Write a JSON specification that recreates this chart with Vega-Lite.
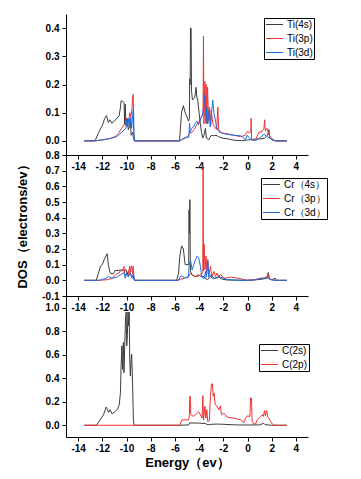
{
"$schema": "https://vega.github.io/schema/vega-lite/v6.json",
"autosize": "none",
"padding": {"left": 66, "top": 14, "right": 295, "bottom": 465},
"background": "white",
"config": {
  "view": {"stroke": null},
  "font": "Liberation Sans",
  "axis": {"grid": false, "domainColor": "black", "domainWidth": 1, "tickColor": "black", "tickSize": 4, "labelFont": "Liberation Sans", "labelFontWeight": "bold", "labelColor": "black", "labelFontSize": 10, "titleFont": "Liberation Sans", "titleFontWeight": "bold", "titleColor": "black", "titleFontSize": 13, "labelExpr": "replace(datum.label, '−', '-')"},
  "legend": {"orient": "none", "strokeColor": "black", "strokeWidth": 1, "padding": 1, "symbolType": "M-1.7,0H1.7", "symbolSize": 100, "symbolOffset": 4, "symbolStrokeWidth": 1.5, "rowPadding": 3, "labelFont": "Liberation Sans", "labelFontSize": 10, "labelColor": "black", "labelOffset": 7, "title": null, "fillColor": "white"},
  "line": {"strokeWidth": 1}
},
"datasets": {
"ti": [
{"e":-13.5,"v":0,"s":"Ti(4s)"},{"e":-12.6,"v":0,"s":"Ti(4s)"},{"e":-12.3,"v":0.03,"s":"Ti(4s)"},{"e":-12.0,"v":0.055,"s":"Ti(4s)"},{"e":-11.8,"v":0.08,"s":"Ti(4s)"},{"e":-11.65,"v":0.09,"s":"Ti(4s)"},{"e":-11.5,"v":0.065,"s":"Ti(4s)"},{"e":-11.38,"v":0.075,"s":"Ti(4s)"},{"e":-11.22,"v":0.063,"s":"Ti(4s)"},{"e":-11.0,"v":0.07,"s":"Ti(4s)"},{"e":-10.8,"v":0.08,"s":"Ti(4s)"},{"e":-10.6,"v":0.09,"s":"Ti(4s)"},{"e":-10.5,"v":0.12,"s":"Ti(4s)"},{"e":-10.45,"v":0.142,"s":"Ti(4s)"},{"e":-10.3,"v":0.14,"s":"Ti(4s)"},{"e":-10.2,"v":0.135,"s":"Ti(4s)"},{"e":-10.15,"v":0.06,"s":"Ti(4s)"},{"e":-10.1,"v":0.13,"s":"Ti(4s)"},{"e":-10.05,"v":0.055,"s":"Ti(4s)"},{"e":-9.95,"v":0.08,"s":"Ti(4s)"},{"e":-9.85,"v":0.04,"s":"Ti(4s)"},{"e":-9.75,"v":0.05,"s":"Ti(4s)"},{"e":-9.68,"v":0.08,"s":"Ti(4s)"},{"e":-9.62,"v":0.02,"s":"Ti(4s)"},{"e":-9.5,"v":0.03,"s":"Ti(4s)"},{"e":-9.42,"v":0.01,"s":"Ti(4s)"},{"e":-9.35,"v":0,"s":"Ti(4s)"},{"e":-5.62,"v":0,"s":"Ti(4s)"},{"e":-5.55,"v":0.04,"s":"Ti(4s)"},{"e":-5.45,"v":0.1,"s":"Ti(4s)"},{"e":-5.3,"v":0.125,"s":"Ti(4s)"},{"e":-5.15,"v":0.1,"s":"Ti(4s)"},{"e":-5.0,"v":0.085,"s":"Ti(4s)"},{"e":-4.87,"v":0.07,"s":"Ti(4s)"},{"e":-4.8,"v":0.08,"s":"Ti(4s)"},{"e":-4.78,"v":0.22,"s":"Ti(4s)"},{"e":-4.74,"v":0.2,"s":"Ti(4s)"},{"e":-4.71,"v":0.4,"s":"Ti(4s)"},{"e":-4.66,"v":0.4,"s":"Ti(4s)"},{"e":-4.63,"v":0.18,"s":"Ti(4s)"},{"e":-4.55,"v":0.145,"s":"Ti(4s)"},{"e":-4.45,"v":0.15,"s":"Ti(4s)"},{"e":-4.35,"v":0.155,"s":"Ti(4s)"},{"e":-4.25,"v":0.19,"s":"Ti(4s)"},{"e":-4.2,"v":0.16,"s":"Ti(4s)"},{"e":-4.1,"v":0.14,"s":"Ti(4s)"},{"e":-4.0,"v":0.1,"s":"Ti(4s)"},{"e":-3.9,"v":0.06,"s":"Ti(4s)"},{"e":-3.8,"v":0.03,"s":"Ti(4s)"},{"e":-3.7,"v":0.01,"s":"Ti(4s)"},{"e":-3.6,"v":0.02,"s":"Ti(4s)"},{"e":-3.48,"v":0.045,"s":"Ti(4s)"},{"e":-3.4,"v":0.01,"s":"Ti(4s)"},{"e":-3.2,"v":0.004,"s":"Ti(4s)"},{"e":-3.0,"v":0.02,"s":"Ti(4s)"},{"e":-2.8,"v":0.018,"s":"Ti(4s)"},{"e":-2.6,"v":0.02,"s":"Ti(4s)"},{"e":-2.4,"v":0.015,"s":"Ti(4s)"},{"e":-2.1,"v":0.01,"s":"Ti(4s)"},{"e":-1.7,"v":0.008,"s":"Ti(4s)"},{"e":-1.3,"v":0.004,"s":"Ti(4s)"},{"e":-1.0,"v":0.002,"s":"Ti(4s)"},{"e":-0.5,"v":0.001,"s":"Ti(4s)"},{"e":0,"v":0.003,"s":"Ti(4s)"},{"e":0.3,"v":0.005,"s":"Ti(4s)"},{"e":0.6,"v":0.006,"s":"Ti(4s)"},{"e":1.0,"v":0.007,"s":"Ti(4s)"},{"e":1.4,"v":0.009,"s":"Ti(4s)"},{"e":1.65,"v":0.02,"s":"Ti(4s)"},{"e":1.77,"v":0.04,"s":"Ti(4s)"},{"e":1.83,"v":0.012,"s":"Ti(4s)"},{"e":2.0,"v":0.004,"s":"Ti(4s)"},{"e":2.3,"v":0,"s":"Ti(4s)"},{"e":3.25,"v":0,"s":"Ti(4s)"},
{"e":-13.5,"v":0,"s":"Ti(3p)"},{"e":-12.5,"v":0,"s":"Ti(3p)"},{"e":-12.2,"v":0.003,"s":"Ti(3p)"},{"e":-11.4,"v":0.008,"s":"Ti(3p)"},{"e":-10.95,"v":0.015,"s":"Ti(3p)"},{"e":-10.65,"v":0.027,"s":"Ti(3p)"},{"e":-10.4,"v":0.045,"s":"Ti(3p)"},{"e":-10.2,"v":0.057,"s":"Ti(3p)"},{"e":-10.05,"v":0.06,"s":"Ti(3p)"},{"e":-10.0,"v":0.08,"s":"Ti(3p)"},{"e":-9.95,"v":0.05,"s":"Ti(3p)"},{"e":-9.83,"v":0.07,"s":"Ti(3p)"},{"e":-9.72,"v":0.1,"s":"Ti(3p)"},{"e":-9.65,"v":0.085,"s":"Ti(3p)"},{"e":-9.55,"v":0.11,"s":"Ti(3p)"},{"e":-9.5,"v":0.155,"s":"Ti(3p)"},{"e":-9.44,"v":0.165,"s":"Ti(3p)"},{"e":-9.41,"v":0.03,"s":"Ti(3p)"},{"e":-9.35,"v":0,"s":"Ti(3p)"},{"e":-5.62,"v":0,"s":"Ti(3p)"},{"e":-5.4,"v":0.005,"s":"Ti(3p)"},{"e":-5.1,"v":0.01,"s":"Ti(3p)"},{"e":-4.9,"v":0.02,"s":"Ti(3p)"},{"e":-4.8,"v":0.028,"s":"Ti(3p)"},{"e":-4.6,"v":0.03,"s":"Ti(3p)"},{"e":-4.4,"v":0.04,"s":"Ti(3p)"},{"e":-4.2,"v":0.057,"s":"Ti(3p)"},{"e":-4.0,"v":0.07,"s":"Ti(3p)"},{"e":-3.85,"v":0.08,"s":"Ti(3p)"},{"e":-3.75,"v":0.09,"s":"Ti(3p)"},{"e":-3.67,"v":0.1,"s":"Ti(3p)"},{"e":-3.64,"v":0.372,"s":"Ti(3p)"},{"e":-3.6,"v":0.06,"s":"Ti(3p)"},{"e":-3.52,"v":0.21,"s":"Ti(3p)"},{"e":-3.48,"v":0.09,"s":"Ti(3p)"},{"e":-3.42,"v":0.2,"s":"Ti(3p)"},{"e":-3.36,"v":0.06,"s":"Ti(3p)"},{"e":-3.3,"v":0.19,"s":"Ti(3p)"},{"e":-3.22,"v":0.07,"s":"Ti(3p)"},{"e":-3.15,"v":0.12,"s":"Ti(3p)"},{"e":-3.08,"v":0.05,"s":"Ti(3p)"},{"e":-3.0,"v":0.11,"s":"Ti(3p)"},{"e":-2.92,"v":0.08,"s":"Ti(3p)"},{"e":-2.85,"v":0.06,"s":"Ti(3p)"},{"e":-2.7,"v":0.05,"s":"Ti(3p)"},{"e":-2.55,"v":0.04,"s":"Ti(3p)"},{"e":-2.45,"v":0.12,"s":"Ti(3p)"},{"e":-2.38,"v":0.04,"s":"Ti(3p)"},{"e":-2.2,"v":0.03,"s":"Ti(3p)"},{"e":-1.96,"v":0.027,"s":"Ti(3p)"},{"e":-1.5,"v":0.024,"s":"Ti(3p)"},{"e":-1.13,"v":0.02,"s":"Ti(3p)"},{"e":-0.57,"v":0.015,"s":"Ti(3p)"},{"e":-0.2,"v":0.02,"s":"Ti(3p)"},{"e":-0.02,"v":0.033,"s":"Ti(3p)"},{"e":0.15,"v":0.03,"s":"Ti(3p)"},{"e":0.27,"v":0.03,"s":"Ti(3p)"},{"e":0.3,"v":0.08,"s":"Ti(3p)"},{"e":0.34,"v":0.004,"s":"Ti(3p)"},{"e":0.67,"v":0.004,"s":"Ti(3p)"},{"e":0.94,"v":0.03,"s":"Ti(3p)"},{"e":1.2,"v":0.033,"s":"Ti(3p)"},{"e":1.36,"v":0.045,"s":"Ti(3p)"},{"e":1.42,"v":0.075,"s":"Ti(3p)"},{"e":1.47,"v":0.035,"s":"Ti(3p)"},{"e":1.6,"v":0.045,"s":"Ti(3p)"},{"e":1.64,"v":0.04,"s":"Ti(3p)"},{"e":1.8,"v":0.02,"s":"Ti(3p)"},{"e":2.05,"v":0.006,"s":"Ti(3p)"},{"e":2.3,"v":0,"s":"Ti(3p)"},{"e":3.25,"v":0,"s":"Ti(3p)"},
{"e":-13.5,"v":0,"s":"Ti(3d)"},{"e":-12.5,"v":0.001,"s":"Ti(3d)"},{"e":-12.0,"v":0.003,"s":"Ti(3d)"},{"e":-11.4,"v":0.008,"s":"Ti(3d)"},{"e":-10.8,"v":0.015,"s":"Ti(3d)"},{"e":-10.4,"v":0.03,"s":"Ti(3d)"},{"e":-10.2,"v":0.039,"s":"Ti(3d)"},{"e":-10.05,"v":0.045,"s":"Ti(3d)"},{"e":-9.97,"v":0.074,"s":"Ti(3d)"},{"e":-9.9,"v":0.05,"s":"Ti(3d)"},{"e":-9.8,"v":0.08,"s":"Ti(3d)"},{"e":-9.72,"v":0.055,"s":"Ti(3d)"},{"e":-9.64,"v":0.084,"s":"Ti(3d)"},{"e":-9.57,"v":0.045,"s":"Ti(3d)"},{"e":-9.48,"v":0.098,"s":"Ti(3d)"},{"e":-9.42,"v":0.116,"s":"Ti(3d)"},{"e":-9.38,"v":0.03,"s":"Ti(3d)"},{"e":-9.34,"v":0,"s":"Ti(3d)"},{"e":-5.6,"v":0,"s":"Ti(3d)"},{"e":-5.5,"v":0.003,"s":"Ti(3d)"},{"e":-5.13,"v":0.013,"s":"Ti(3d)"},{"e":-4.85,"v":0.013,"s":"Ti(3d)"},{"e":-4.79,"v":0.063,"s":"Ti(3d)"},{"e":-4.74,"v":0.03,"s":"Ti(3d)"},{"e":-4.6,"v":0.045,"s":"Ti(3d)"},{"e":-4.45,"v":0.05,"s":"Ti(3d)"},{"e":-4.3,"v":0.065,"s":"Ti(3d)"},{"e":-4.17,"v":0.069,"s":"Ti(3d)"},{"e":-4.05,"v":0.057,"s":"Ti(3d)"},{"e":-3.9,"v":0.074,"s":"Ti(3d)"},{"e":-3.75,"v":0.09,"s":"Ti(3d)"},{"e":-3.62,"v":0.12,"s":"Ti(3d)"},{"e":-3.56,"v":0.163,"s":"Ti(3d)"},{"e":-3.5,"v":0.16,"s":"Ti(3d)"},{"e":-3.44,"v":0.063,"s":"Ti(3d)"},{"e":-3.36,"v":0.12,"s":"Ti(3d)"},{"e":-3.28,"v":0.06,"s":"Ti(3d)"},{"e":-3.16,"v":0.11,"s":"Ti(3d)"},{"e":-3.05,"v":0.05,"s":"Ti(3d)"},{"e":-2.95,"v":0.11,"s":"Ti(3d)"},{"e":-2.87,"v":0.145,"s":"Ti(3d)"},{"e":-2.78,"v":0.1,"s":"Ti(3d)"},{"e":-2.68,"v":0.08,"s":"Ti(3d)"},{"e":-2.56,"v":0.05,"s":"Ti(3d)"},{"e":-2.37,"v":0.033,"s":"Ti(3d)"},{"e":-2.09,"v":0.027,"s":"Ti(3d)"},{"e":-1.5,"v":0.022,"s":"Ti(3d)"},{"e":-1.13,"v":0.02,"s":"Ti(3d)"},{"e":-0.57,"v":0.018,"s":"Ti(3d)"},{"e":-0.3,"v":0.01,"s":"Ti(3d)"},{"e":-0.16,"v":0.004,"s":"Ti(3d)"},{"e":-0.02,"v":0.02,"s":"Ti(3d)"},{"e":0.15,"v":0.01,"s":"Ti(3d)"},{"e":0.3,"v":0.004,"s":"Ti(3d)"},{"e":0.67,"v":0.001,"s":"Ti(3d)"},{"e":0.9,"v":0.008,"s":"Ti(3d)"},{"e":1.08,"v":0.013,"s":"Ti(3d)"},{"e":1.36,"v":0.024,"s":"Ti(3d)"},{"e":1.6,"v":0.015,"s":"Ti(3d)"},{"e":1.8,"v":0.01,"s":"Ti(3d)"},{"e":2.05,"v":0.006,"s":"Ti(3d)"},{"e":2.3,"v":0,"s":"Ti(3d)"},{"e":3.25,"v":0,"s":"Ti(3d)"}
],
"cr": [
{"e":-13.5,"v":0,"s":"Cr（4s）"},{"e":-12.5,"v":0,"s":"Cr（4s）"},{"e":-12.3,"v":0.05,"s":"Cr（4s）"},{"e":-12.15,"v":0.09,"s":"Cr（4s）"},{"e":-12.0,"v":0.1,"s":"Cr（4s）"},{"e":-11.8,"v":0.14,"s":"Cr（4s）"},{"e":-11.6,"v":0.17,"s":"Cr（4s）"},{"e":-11.5,"v":0.1,"s":"Cr（4s）"},{"e":-11.35,"v":0.046,"s":"Cr（4s）"},{"e":-11.1,"v":0.041,"s":"Cr（4s）"},{"e":-10.95,"v":0.063,"s":"Cr（4s）"},{"e":-10.7,"v":0.063,"s":"Cr（4s）"},{"e":-10.4,"v":0.067,"s":"Cr（4s）"},{"e":-10.2,"v":0.06,"s":"Cr（4s）"},{"e":-10.05,"v":0.07,"s":"Cr（4s）"},{"e":-9.95,"v":0.04,"s":"Cr（4s）"},{"e":-9.85,"v":0.06,"s":"Cr（4s）"},{"e":-9.7,"v":0.046,"s":"Cr（4s）"},{"e":-9.55,"v":0.03,"s":"Cr（4s）"},{"e":-9.42,"v":0.024,"s":"Cr（4s）"},{"e":-9.35,"v":0,"s":"Cr（4s）"},{"e":-5.85,"v":0,"s":"Cr（4s）"},{"e":-5.7,"v":0.046,"s":"Cr（4s）"},{"e":-5.6,"v":0.15,"s":"Cr（4s）"},{"e":-5.45,"v":0.22,"s":"Cr（4s）"},{"e":-5.3,"v":0.2,"s":"Cr（4s）"},{"e":-5.15,"v":0.1,"s":"Cr（4s）"},{"e":-5.0,"v":0.1,"s":"Cr（4s）"},{"e":-4.86,"v":0.1,"s":"Cr（4s）"},{"e":-4.83,"v":0.45,"s":"Cr（4s）"},{"e":-4.8,"v":0.3,"s":"Cr（4s）"},{"e":-4.76,"v":0.515,"s":"Cr（4s）"},{"e":-4.72,"v":0.06,"s":"Cr（4s）"},{"e":-4.6,"v":0.035,"s":"Cr（4s）"},{"e":-4.3,"v":0.024,"s":"Cr（4s）"},{"e":-4.05,"v":0.035,"s":"Cr（4s）"},{"e":-3.75,"v":0.02,"s":"Cr（4s）"},{"e":-3.6,"v":0.025,"s":"Cr（4s）"},{"e":-3.45,"v":0.01,"s":"Cr（4s）"},{"e":-3.3,"v":0.004,"s":"Cr（4s）"},{"e":-3.06,"v":0.024,"s":"Cr（4s）"},{"e":-2.8,"v":0.01,"s":"Cr（4s）"},{"e":-2.5,"v":0.02,"s":"Cr（4s）"},{"e":-2.37,"v":0.028,"s":"Cr（4s）"},{"e":-2.2,"v":0.01,"s":"Cr（4s）"},{"e":-1.7,"v":0.002,"s":"Cr（4s）"},{"e":-1.0,"v":0.001,"s":"Cr（4s）"},{"e":0,"v":0,"s":"Cr（4s）"},{"e":0.5,"v":0.002,"s":"Cr（4s）"},{"e":1.08,"v":0.006,"s":"Cr（4s）"},{"e":1.6,"v":0.013,"s":"Cr（4s）"},{"e":1.72,"v":0.05,"s":"Cr（4s）"},{"e":1.8,"v":0.01,"s":"Cr（4s）"},{"e":2.0,"v":0.004,"s":"Cr（4s）"},{"e":2.3,"v":0.013,"s":"Cr（4s）"},{"e":2.35,"v":0,"s":"Cr（4s）"},{"e":3.25,"v":0,"s":"Cr（4s）"},
{"e":-13.5,"v":0,"s":"Cr（3p）"},{"e":-12.2,"v":0,"s":"Cr（3p）"},{"e":-11.5,"v":0.005,"s":"Cr（3p）"},{"e":-11.2,"v":0.013,"s":"Cr（3p）"},{"e":-10.9,"v":0.035,"s":"Cr（3p）"},{"e":-10.5,"v":0.057,"s":"Cr（3p）"},{"e":-10.3,"v":0.067,"s":"Cr（3p）"},{"e":-10.2,"v":0.089,"s":"Cr（3p）"},{"e":-10.15,"v":0.03,"s":"Cr（3p）"},{"e":-10.0,"v":0.046,"s":"Cr（3p）"},{"e":-9.85,"v":0.03,"s":"Cr（3p）"},{"e":-9.75,"v":0.09,"s":"Cr（3p）"},{"e":-9.7,"v":0.05,"s":"Cr（3p）"},{"e":-9.6,"v":0.093,"s":"Cr（3p）"},{"e":-9.5,"v":0.04,"s":"Cr（3p）"},{"e":-9.45,"v":0.09,"s":"Cr（3p）"},{"e":-9.4,"v":0.03,"s":"Cr（3p）"},{"e":-9.35,"v":0,"s":"Cr（3p）"},{"e":-5.8,"v":0,"s":"Cr（3p）"},{"e":-5.55,"v":0.006,"s":"Cr（3p）"},{"e":-5.13,"v":0.017,"s":"Cr（3p）"},{"e":-4.86,"v":0.024,"s":"Cr（3p）"},{"e":-4.72,"v":0.046,"s":"Cr（3p）"},{"e":-4.44,"v":0.028,"s":"Cr（3p）"},{"e":-4.17,"v":0.024,"s":"Cr（3p）"},{"e":-3.89,"v":0.035,"s":"Cr（3p）"},{"e":-3.75,"v":0.046,"s":"Cr（3p）"},{"e":-3.69,"v":0.05,"s":"Cr（3p）"},{"e":-3.67,"v":0.73,"s":"Cr（3p）"},{"e":-3.64,"v":0.06,"s":"Cr（3p）"},{"e":-3.58,"v":0.23,"s":"Cr（3p）"},{"e":-3.52,"v":0.067,"s":"Cr（3p）"},{"e":-3.42,"v":0.154,"s":"Cr（3p）"},{"e":-3.37,"v":0.04,"s":"Cr（3p）"},{"e":-3.28,"v":0.122,"s":"Cr（3p）"},{"e":-3.2,"v":0.03,"s":"Cr（3p）"},{"e":-3.06,"v":0.089,"s":"Cr（3p）"},{"e":-2.95,"v":0.02,"s":"Cr（3p）"},{"e":-2.78,"v":0.057,"s":"Cr（3p）"},{"e":-2.65,"v":0.025,"s":"Cr（3p）"},{"e":-2.51,"v":0.046,"s":"Cr（3p）"},{"e":-2.4,"v":0.02,"s":"Cr（3p）"},{"e":-2.23,"v":0.039,"s":"Cr（3p）"},{"e":-1.96,"v":0.013,"s":"Cr（3p）"},{"e":-1.4,"v":0.02,"s":"Cr（3p）"},{"e":-0.9,"v":0.015,"s":"Cr（3p）"},{"e":-0.57,"v":0.011,"s":"Cr（3p）"},{"e":-0.15,"v":0.002,"s":"Cr（3p）"},{"e":0.5,"v":0.002,"s":"Cr（3p）"},{"e":1.08,"v":0.013,"s":"Cr（3p）"},{"e":1.4,"v":0.013,"s":"Cr（3p）"},{"e":1.64,"v":0.028,"s":"Cr（3p）"},{"e":1.72,"v":0.041,"s":"Cr（3p）"},{"e":1.78,"v":0.01,"s":"Cr（3p）"},{"e":2.05,"v":0.002,"s":"Cr（3p）"},{"e":2.3,"v":0,"s":"Cr（3p）"},{"e":3.25,"v":0,"s":"Cr（3p）"},
{"e":-13.5,"v":0,"s":"Cr（3d）"},{"e":-12.3,"v":0,"s":"Cr（3d）"},{"e":-12.0,"v":0.006,"s":"Cr（3d）"},{"e":-11.7,"v":0.013,"s":"Cr（3d）"},{"e":-11.49,"v":0.024,"s":"Cr（3d）"},{"e":-11.2,"v":0.013,"s":"Cr（3d）"},{"e":-10.8,"v":0.02,"s":"Cr（3d）"},{"e":-10.5,"v":0.035,"s":"Cr（3d）"},{"e":-10.2,"v":0.05,"s":"Cr（3d）"},{"e":-10.1,"v":0.013,"s":"Cr（3d）"},{"e":-9.97,"v":0.046,"s":"Cr（3d）"},{"e":-9.85,"v":0.02,"s":"Cr（3d）"},{"e":-9.69,"v":0.046,"s":"Cr（3d）"},{"e":-9.55,"v":0.013,"s":"Cr（3d）"},{"e":-9.42,"v":0.041,"s":"Cr（3d）"},{"e":-9.35,"v":0,"s":"Cr（3d）"},{"e":-5.7,"v":0,"s":"Cr（3d）"},{"e":-5.55,"v":0.024,"s":"Cr（3d）"},{"e":-5.41,"v":0.028,"s":"Cr（3d）"},{"e":-5.2,"v":0.015,"s":"Cr（3d）"},{"e":-4.9,"v":0.018,"s":"Cr（3d）"},{"e":-4.8,"v":0.11,"s":"Cr（3d）"},{"e":-4.69,"v":0.12,"s":"Cr（3d）"},{"e":-4.58,"v":0.067,"s":"Cr（3d）"},{"e":-4.44,"v":0.1,"s":"Cr（3d）"},{"e":-4.3,"v":0.133,"s":"Cr（3d）"},{"e":-4.17,"v":0.154,"s":"Cr（3d）"},{"e":-4.03,"v":0.143,"s":"Cr（3d）"},{"e":-3.89,"v":0.089,"s":"Cr（3d）"},{"e":-3.8,"v":0.035,"s":"Cr（3d）"},{"e":-3.67,"v":0.013,"s":"Cr（3d）"},{"e":-3.55,"v":0.013,"s":"Cr（3d）"},{"e":-3.48,"v":0.057,"s":"Cr（3d）"},{"e":-3.4,"v":0.02,"s":"Cr（3d）"},{"e":-3.28,"v":0.133,"s":"Cr（3d）"},{"e":-3.2,"v":0.02,"s":"Cr（3d）"},{"e":-3.06,"v":0.035,"s":"Cr（3d）"},{"e":-2.7,"v":0.013,"s":"Cr（3d）"},{"e":-2.2,"v":0.02,"s":"Cr（3d）"},{"e":-1.7,"v":0.006,"s":"Cr（3d）"},{"e":-1.1,"v":0.002,"s":"Cr（3d）"},{"e":-0.02,"v":0,"s":"Cr（3d）"},{"e":0.6,"v":0.003,"s":"Cr（3d）"},{"e":1.08,"v":0.013,"s":"Cr（3d）"},{"e":1.64,"v":0.017,"s":"Cr（3d）"},{"e":1.9,"v":0.006,"s":"Cr（3d）"},{"e":2.2,"v":0,"s":"Cr（3d）"},{"e":3.25,"v":0,"s":"Cr（3d）"}
],
"c": [
{"e":-13.5,"v":0,"s":"C(2s)"},{"e":-12.5,"v":0,"s":"C(2s)"},{"e":-12.18,"v":0.046,"s":"C(2s)"},{"e":-11.9,"v":0.089,"s":"C(2s)"},{"e":-11.68,"v":0.155,"s":"C(2s)"},{"e":-11.57,"v":0.132,"s":"C(2s)"},{"e":-11.48,"v":0.109,"s":"C(2s)"},{"e":-11.35,"v":0.132,"s":"C(2s)"},{"e":-11.2,"v":0.097,"s":"C(2s)"},{"e":-10.93,"v":0.117,"s":"C(2s)"},{"e":-10.74,"v":0.138,"s":"C(2s)"},{"e":-10.6,"v":0.175,"s":"C(2s)"},{"e":-10.5,"v":0.28,"s":"C(2s)"},{"e":-10.45,"v":0.49,"s":"C(2s)"},{"e":-10.38,"v":0.676,"s":"C(2s)"},{"e":-10.33,"v":0.476,"s":"C(2s)"},{"e":-10.26,"v":0.705,"s":"C(2s)"},{"e":-10.21,"v":0.447,"s":"C(2s)"},{"e":-10.16,"v":0.633,"s":"C(2s)"},{"e":-10.08,"v":0.905,"s":"C(2s)"},{"e":-10.03,"v":0.963,"s":"C(2s)"},{"e":-9.98,"v":0.676,"s":"C(2s)"},{"e":-9.93,"v":0.762,"s":"C(2s)"},{"e":-9.88,"v":0.963,"s":"C(2s)"},{"e":-9.83,"v":0.848,"s":"C(2s)"},{"e":-9.78,"v":0.963,"s":"C(2s)"},{"e":-9.73,"v":0.562,"s":"C(2s)"},{"e":-9.68,"v":0.418,"s":"C(2s)"},{"e":-9.62,"v":0.562,"s":"C(2s)"},{"e":-9.57,"v":0.605,"s":"C(2s)"},{"e":-9.5,"v":0.361,"s":"C(2s)"},{"e":-9.43,"v":0.046,"s":"C(2s)"},{"e":-9.37,"v":0,"s":"C(2s)"},{"e":-5.7,"v":0,"s":"C(2s)"},{"e":-4.85,"v":0.003,"s":"C(2s)"},{"e":-4.8,"v":0.02,"s":"C(2s)"},{"e":-4.0,"v":0.018,"s":"C(2s)"},{"e":-3.5,"v":0.015,"s":"C(2s)"},{"e":-3.25,"v":0.004,"s":"C(2s)"},{"e":-3.0,"v":0.008,"s":"C(2s)"},{"e":-2.5,"v":0.01,"s":"C(2s)"},{"e":-2.0,"v":0.008,"s":"C(2s)"},{"e":-1.0,"v":0.003,"s":"C(2s)"},{"e":0,"v":0.002,"s":"C(2s)"},{"e":1.0,"v":0.003,"s":"C(2s)"},{"e":1.35,"v":0.017,"s":"C(2s)"},{"e":1.45,"v":0.005,"s":"C(2s)"},{"e":2.0,"v":0,"s":"C(2s)"},{"e":3.25,"v":0,"s":"C(2s)"},
{"e":-13.5,"v":0,"s":"C(2p)"},{"e":-5.63,"v":0,"s":"C(2p)"},{"e":-5.41,"v":0.046,"s":"C(2p)"},{"e":-4.86,"v":0.046,"s":"C(2p)"},{"e":-4.8,"v":0.09,"s":"C(2p)"},{"e":-4.77,"v":0.246,"s":"C(2p)"},{"e":-4.72,"v":0.246,"s":"C(2p)"},{"e":-4.69,"v":0.089,"s":"C(2p)"},{"e":-4.44,"v":0.075,"s":"C(2p)"},{"e":-4.17,"v":0.103,"s":"C(2p)"},{"e":-4.03,"v":0.115,"s":"C(2p)"},{"e":-3.89,"v":0.089,"s":"C(2p)"},{"e":-3.75,"v":0.06,"s":"C(2p)"},{"e":-3.69,"v":0.252,"s":"C(2p)"},{"e":-3.64,"v":0.046,"s":"C(2p)"},{"e":-3.52,"v":0.16,"s":"C(2p)"},{"e":-3.44,"v":0.06,"s":"C(2p)"},{"e":-3.36,"v":0.132,"s":"C(2p)"},{"e":-3.28,"v":0.03,"s":"C(2p)"},{"e":-3.15,"v":0.04,"s":"C(2p)"},{"e":-3.06,"v":0.246,"s":"C(2p)"},{"e":-2.98,"v":0.347,"s":"C(2p)"},{"e":-2.9,"v":0.355,"s":"C(2p)"},{"e":-2.83,"v":0.246,"s":"C(2p)"},{"e":-2.76,"v":0.275,"s":"C(2p)"},{"e":-2.67,"v":0.175,"s":"C(2p)"},{"e":-2.51,"v":0.16,"s":"C(2p)"},{"e":-2.37,"v":0.132,"s":"C(2p)"},{"e":-2.23,"v":0.166,"s":"C(2p)"},{"e":-2.15,"v":0.089,"s":"C(2p)"},{"e":-1.96,"v":0.103,"s":"C(2p)"},{"e":-1.68,"v":0.069,"s":"C(2p)"},{"e":-1.13,"v":0.06,"s":"C(2p)"},{"e":-0.57,"v":0.046,"s":"C(2p)"},{"e":-0.3,"v":0.023,"s":"C(2p)"},{"e":-0.16,"v":0.06,"s":"C(2p)"},{"e":-0.02,"v":0.08,"s":"C(2p)"},{"e":0.2,"v":0.075,"s":"C(2p)"},{"e":0.25,"v":0.232,"s":"C(2p)"},{"e":0.33,"v":0.232,"s":"C(2p)"},{"e":0.38,"v":0.03,"s":"C(2p)"},{"e":0.53,"v":0.011,"s":"C(2p)"},{"e":0.67,"v":0.011,"s":"C(2p)"},{"e":0.81,"v":0.046,"s":"C(2p)"},{"e":1.08,"v":0.075,"s":"C(2p)"},{"e":1.22,"v":0.089,"s":"C(2p)"},{"e":1.3,"v":0.075,"s":"C(2p)"},{"e":1.41,"v":0.126,"s":"C(2p)"},{"e":1.47,"v":0.08,"s":"C(2p)"},{"e":1.58,"v":0.126,"s":"C(2p)"},{"e":1.66,"v":0.075,"s":"C(2p)"},{"e":1.77,"v":0.06,"s":"C(2p)"},{"e":1.91,"v":0.03,"s":"C(2p)"},{"e":2.05,"v":0.011,"s":"C(2p)"},{"e":2.19,"v":0,"s":"C(2p)"},{"e":3.25,"v":0,"s":"C(2p)"}
]
},
"vconcat": [
{
  "width": 242, "height": 141,
  "data": {"name": "ti"},
  "mark": {"type": "line", "strokeWidth": 1},
  "encoding": {
    "x": {"field": "e", "type": "quantitative", "scale": {"domain": [-15, 5], "nice": false, "zero": false}, "axis": {"values": [-14,-12,-10,-8,-6,-4,-2,0,2,4], "title": null, "labelPadding": 2}},
    "y": {"field": "v", "type": "quantitative", "scale": {"domain": [-0.05, 0.45], "nice": false, "zero": false}, "axis": {"values": [0,0.1,0.2,0.3,0.4], "format": ".1f", "title": null, "labelPadding": 3}},
    "color": {"field": "s", "type": "nominal", "scale": {"domain": ["Ti(4s)","Ti(3p)","Ti(3d)"], "range": ["#3c3c3c","#ee3333","#1a6ee6"]}, "legend": {"legendX": 198, "legendY": 4}}
  }
},
{
  "width": 242, "height": 141,
  "data": {"name": "cr"},
  "mark": {"type": "line", "strokeWidth": 1},
  "encoding": {
    "x": {"field": "e", "type": "quantitative", "scale": {"domain": [-15, 5], "nice": false, "zero": false}, "axis": {"values": [-14,-12,-10,-8,-6,-4,-2,0,2,4], "title": null, "labelPadding": 2}},
    "y": {"field": "v", "type": "quantitative", "scale": {"domain": [-0.1, 0.8], "nice": false, "zero": false}, "axis": {"values": [-0.1,0,0.1,0.2,0.3,0.4,0.5,0.6,0.7,0.8], "format": ".1f", "title": "DOS（electrons/ev）", "labelPadding": 3, "titleX": -44, "titleY": 68, "titleAngle": 270, "titleAlign": "center", "titleBaseline": "middle"}},
    "color": {"field": "s", "type": "nominal", "scale": {"domain": ["Cr（4s）","Cr（3p）","Cr（3d）"], "range": ["#3c3c3c","#ee3333","#1a6ee6"]}, "legend": {"legendX": 195, "legendY": 23}}
  }
},
{
  "width": 242, "height": 141,
  "data": {"name": "c"},
  "mark": {"type": "line", "strokeWidth": 1},
  "encoding": {
    "x": {"field": "e", "type": "quantitative", "scale": {"domain": [-15, 5], "nice": false, "zero": false}, "axis": {"values": [-14,-12,-10,-8,-6,-4,-2,0,2,4], "title": "Energy（ev）", "labelPadding": 2, "titlePadding": 3}},
    "y": {"field": "v", "type": "quantitative", "scale": {"domain": [-0.1, 1.1], "nice": false, "zero": false}, "axis": {"values": [0,0.2,0.4,0.6,0.8,1.0], "format": ".1f", "title": null, "labelPadding": 3}},
    "color": {"field": "s", "type": "nominal", "scale": {"domain": ["C(2s)","C(2p)"], "range": ["#3c3c3c","#ee3333"]}, "legend": {"legendX": 193, "legendY": 48}}
  }
}
],
"spacing": 0,
"bounds": "flush",
"resolve": {"scale": {"color": "independent", "x": "independent", "y": "independent"}, "legend": {"color": "independent"}}
}
